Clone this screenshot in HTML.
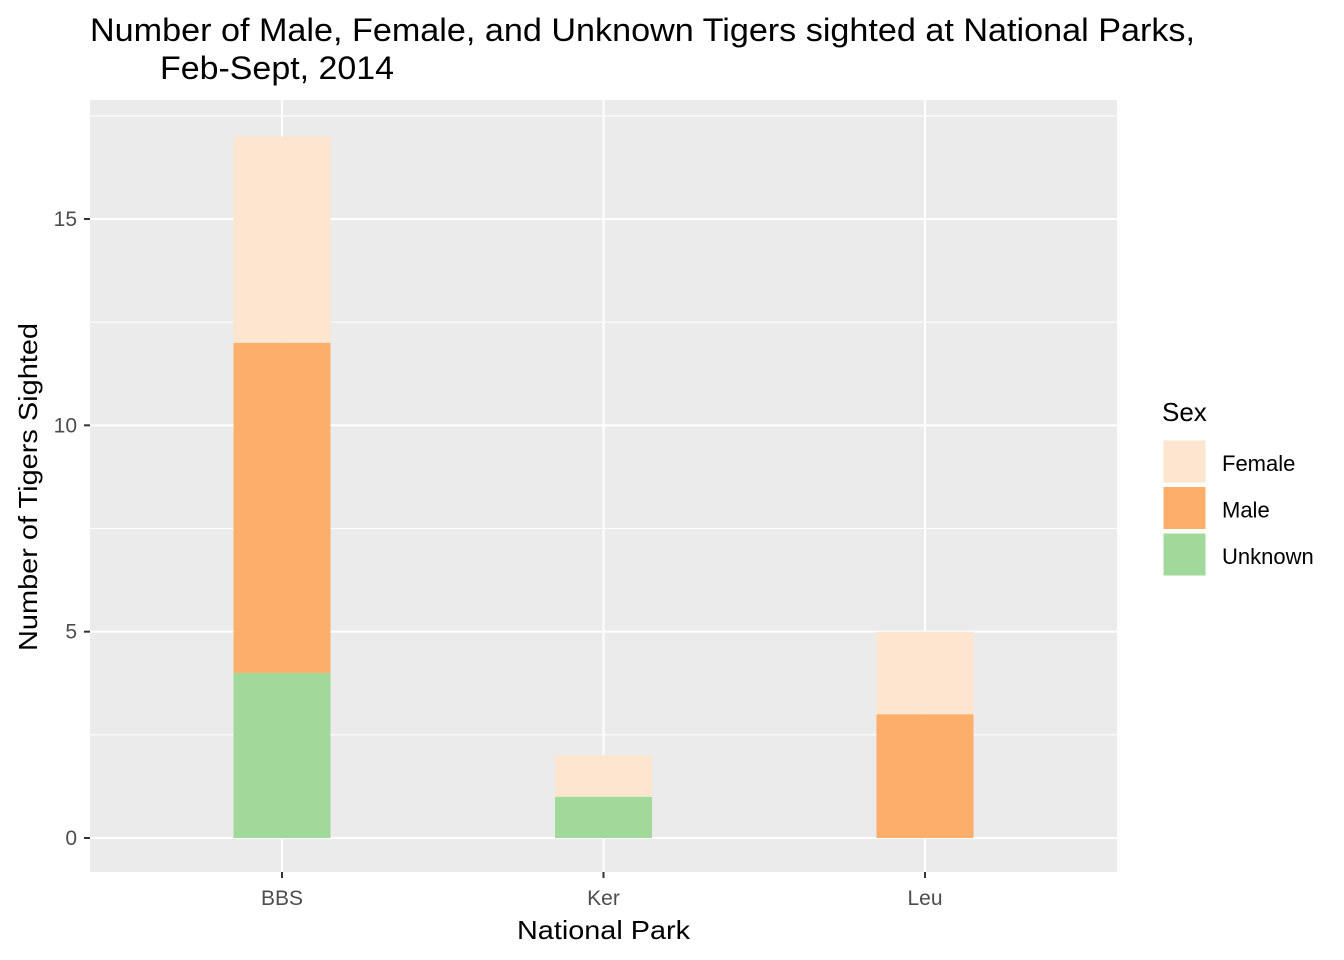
<!DOCTYPE html>
<html><head><meta charset="utf-8"><style>
body{margin:0;background:#fff;}
svg{display:block;font-family:"Liberation Sans",Arial,sans-serif;}
</style></head><body>
<svg id="chart" width="1344" height="960">
<g id="titles">
<text x="90" y="41" font-size="32" fill="#000" textLength="1105" lengthAdjust="spacingAndGlyphs">Number of Male, Female, and Unknown Tigers sighted at National Parks,</text>
<text x="160" y="79" font-size="32" fill="#000" textLength="234" lengthAdjust="spacingAndGlyphs">Feb-Sept, 2014</text>
</g>
<rect x="90" y="100" width="1027" height="772" fill="#EBEBEB"/>
<g id="grid"></g>
<g id="bars"></g>
<g id="axes"></g>
<text x="517" y="939" font-size="26" textLength="173" lengthAdjust="spacingAndGlyphs">National Park</text>
<text transform="translate(37,651) rotate(-90)" font-size="26" textLength="328" lengthAdjust="spacingAndGlyphs">Number of Tigers Sighted</text>
<g id="legend">
<text x="1162" y="421" font-size="26">Sex</text>
</g>
</svg>
<script>
const categories=["BBS","Ker","Leu"];
const seriesNames=["Unknown","Male","Female"];
const unknownVals=[4,1,0];
const maleVals=[8,0,3];
const femaleVals=[5,1,2];
const yTicks=[0,5,10,15];
const colors={Female:"#FDE5CF",Male:"#FDAE6B",Unknown:"#A1D99B"};
const NS="http://www.w3.org/2000/svg";
const y0=838, yUnit=(838-219)/15;
const y=v=>y0-v*yUnit;
const xStart=282, xStep=321.5, barW=97;
const x=i=>xStart+i*xStep;
function mk(tag,attrs,parent){const e=document.createElementNS(NS,tag);for(const k in attrs)e.setAttribute(k,attrs[k]);parent.appendChild(e);return e;}
const grid=document.getElementById('grid'),bars=document.getElementById('bars'),axes=document.getElementById('axes'),legend=document.getElementById('legend');
for(let i=0;i<yTicks.length;i++){const m=yTicks[i]+2.5;const yy=y(m);if(yy>100){const l=mk('line',{x1:90,x2:1117,y1:yy,y2:yy,stroke:'#fff','stroke-width':1},grid);

}}
yTicks.forEach(t=>{const l=mk('line',{x1:90,x2:1117,y1:y(t),y2:y(t),stroke:'#fff','stroke-width':2},grid);


const tk=mk('line',{x1:84,x2:90,y1:y(t),y2:y(t),stroke:'#333','stroke-width':2},axes);


const tx=mk('text',{x:77,y:y(t)+7,'font-size':21,'text-anchor':'end',fill:'#4d4d4d'},axes);tx.textContent=t;

});
categories.forEach((c,i)=>{const l=mk('line',{x1:x(i),x2:x(i),y1:100,y2:872,stroke:'#fff','stroke-width':2},grid);


const tk=mk('line',{x1:x(i),x2:x(i),y1:872,y2:878,stroke:'#333','stroke-width':2},axes);


const tx=mk('text',{x:x(i),y:905,'font-size':21,'text-anchor':'middle',fill:'#4d4d4d'},axes);tx.textContent=c;


let base=0;const vals=[unknownVals[i],maleVals[i],femaleVals[i]];
vals.forEach((v,s)=>{if(v>0){const r=mk('rect',{x:x(i)-barW/2,y:y(base+v),width:barW,height:y(base)-y(base+v),fill:colors[seriesNames[s]]},bars);

}base+=v;});});
["Female","Male","Unknown"].forEach((n,i)=>{const ky=440+i*46.5;
const r=mk('rect',{x:1163,y:ky,width:43,height:43,fill:colors[n],stroke:'#fff','stroke-width':1},legend);


const t=mk('text',{x:1222,y:ky+31,'font-size':22},legend);t.textContent=n;

});
</script>
</body></html>
